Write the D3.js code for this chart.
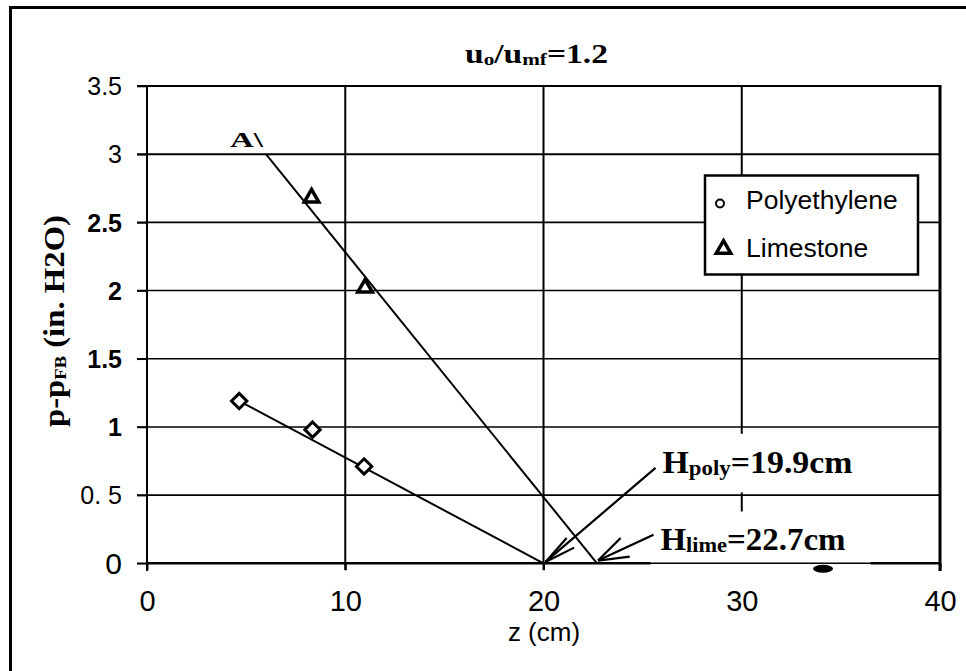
<!DOCTYPE html>
<html><head><meta charset="utf-8">
<script src="https://cdn.jsdelivr.net/npm/d3@7"></script>
<style>body{margin:0;background:#fff}svg{display:block}</style>
</head><body>
<svg id="c" width="966" height="671"></svg>
<script>
// ---- data ----
const xTicks = [0, 10, 20, 30, 40];
const xTickLabels = ["0", "10", "20", "30", "40"];
const yTicks = [0, 0.5, 1, 1.5, 2, 2.5, 3, 3.5];
const yTickLabels = ["0", "0. 5", "1", "1.5", "2", "2.5", "3", "3.5"];
const seriesNames = ["Polyethylene", "Limestone"];
const polyZ = [4.65, 8.35, 10.95];
const polyP = [1.19, 0.98, 0.71];
const limeZ = [8.3, 11.0];
const limeP = [2.68, 2.02];
const polyFitZ = [4.65, 20.0];
const polyFitP = [1.19, 0];
const limeFitZ = [6.0, 22.7];
const limeFitP = [3.0, 0];
const strayZ = [34.1];
const strayP = [-0.04];

// ---- layout ----
const svg = d3.select("#c");
const x = d3.scaleLinear().domain([0, 40]).range([147, 940]);
const y = d3.scaleLinear().domain([0, 3.5]).range([563.3, 86]);
const SANS = "'Liberation Sans', Arial, sans-serif";
const NARROW = "'Liberation Sans Narrow', 'Liberation Sans', Arial, sans-serif";
const SERIF = "'Liberation Serif', 'Times New Roman', serif";

// outer frame
svg.append("path").attr("d", "M10.5,671 V7.5 H966").attr("fill", "none")
  .attr("stroke", "#000").attr("stroke-width", 3);

// horizontal gridlines
svg.append("g").selectAll("line").data(yTicks).join("line")
  .attr("x1", 137).attr("x2", 940)
  .attr("y1", d => y(d)).attr("y2", d => y(d))
  .attr("stroke", "#000").attr("stroke-width", d => d >= 3 ? 2 : 1.6);

// vertical gridlines
const vSegs = [[10, 3.5, -0.05], [20, 3.5, -0.05], [30, 3.5, 0.95], [30, 0.52, 0.38]];
svg.append("g").selectAll("line").data(vSegs).join("line")
  .attr("x1", d => x(d[0])).attr("x2", d => x(d[0]))
  .attr("y1", d => y(d[1])).attr("y2", d => y(d[2]))
  .attr("stroke", "#000").attr("stroke-width", 2);

// y axis (labels + stubs)
const yAxis = svg.append("g").attr("transform", "translate(147,0)")
  .call(d3.axisLeft(y).tickValues(yTicks).tickSize(10).tickSizeOuter(0)
    .tickFormat((d, i) => yTickLabels[i]));
yAxis.select(".domain").remove();
yAxis.selectAll("line").attr("stroke", "#000").attr("stroke-width", 1.6);
yAxis.selectAll("text")
  .attr("x", -25).attr("dy", "0.35em")
  .attr("fill", "#000")
  .style("font-family", d => d === 0 ? NARROW : SANS)
  .style("font-size", d => d === 0 ? "30px" : "25px")
  .style("font-weight", d => (d >= 1 && d <= 2.5) ? "bold" : "normal");

// x axis (labels + stubs)
const xAxis = svg.append("g").attr("transform", "translate(0,563.3)")
  .call(d3.axisBottom(x).tickValues(xTicks).tickSize(7).tickSizeOuter(0)
    .tickFormat((d, i) => xTickLabels[i]));
xAxis.select(".domain").remove();
xAxis.selectAll("line").attr("stroke", "#000").attr("stroke-width", 2)
  .attr("opacity", d => d === 30 ? 0 : 1);
xAxis.selectAll("text").attr("y", 48).attr("dy", 0).attr("fill", "#000")
  .style("font-family", NARROW).style("font-size", "29px");

// bottom axis line (broken as in scan)
const axisSegs = [[0, 25.4], [36.5, 40]];
svg.append("g").selectAll("line").data(axisSegs).join("line")
  .attr("x1", d => x(d[0])).attr("x2", d => x(d[1]))
  .attr("y1", y(0)).attr("y2", y(0))
  .attr("stroke", "#000").attr("stroke-width", 2.5);

// plot borders
svg.append("line").attr("x1", x(0)).attr("x2", x(0)).attr("y1", y(3.5)).attr("y2", 571)
  .attr("stroke", "#000").attr("stroke-width", 2);
svg.append("line").attr("x1", 137).attr("x2", x(40) + 1.5).attr("y1", y(3.5)).attr("y2", y(3.5))
  .attr("stroke", "#000").attr("stroke-width", 2.2);
svg.append("line").attr("x1", x(40)).attr("x2", x(40)).attr("y1", y(3.5)).attr("y2", 571)
  .attr("stroke", "#000").attr("stroke-width", 3);

// fit lines
const line = d3.line();
svg.append("path").attr("d", line(polyFitZ.map((z, i) => [x(z), y(polyFitP[i])])))
  .attr("fill", "none").attr("stroke", "#000").attr("stroke-width", 2);
svg.append("path").attr("d", line(limeFitZ.map((z, i) => [x(z), y(limeFitP[i])])))
  .attr("fill", "none").attr("stroke", "#000").attr("stroke-width", 2);

// polyethylene markers (diamonds)
const diamond = d3.symbol().type(d3.symbolDiamond2).size(150);
svg.append("g").selectAll("path").data(polyZ).join("path")
  .attr("transform", (d, i) => `translate(${x(d)},${y(polyP[i])})`)
  .attr("d", diamond).attr("fill", "#fff").attr("stroke", "#000").attr("stroke-width", 3);

// limestone markers (triangles)
const tri = d3.symbol().type(d3.symbolTriangle2).size(150);
svg.append("g").selectAll("path").data(limeZ).join("path")
  .attr("transform", (d, i) => `translate(${x(d)},${y(limeP[i])})`)
  .attr("d", tri).attr("fill", "#fff").attr("stroke", "#000").attr("stroke-width", 3.5);

// stray scan mark
svg.append("g").selectAll("ellipse").data(strayZ).join("ellipse")
  .attr("cx", d => x(d)).attr("cy", (d, i) => y(strayP[i]))
  .attr("rx", 10).attr("ry", 4).attr("fill", "#000");

// "A\" label
svg.append("text").attr("x", 230).attr("y", 147)
  .attr("textLength", 33).attr("lengthAdjust", "spacingAndGlyphs")
  .style("font-family", SERIF).style("font-weight", "bold").style("font-size", "22px")
  .text("A\\");

// title
const title = svg.append("text").attr("x", 465).attr("y", 63)
  .attr("textLength", 143).attr("lengthAdjust", "spacingAndGlyphs")
  .style("font-family", SERIF).style("font-weight", "bold").style("font-size", "27px");
title.append("tspan").text("u");
title.append("tspan").attr("font-size", "17px").attr("dy", 2).text("o");
title.append("tspan").attr("dy", -2).text("/u");
title.append("tspan").attr("font-size", "17px").attr("dy", 2).text("mf");
title.append("tspan").attr("dy", -2).text("=1.2");

// y-axis title
const yt = svg.append("text")
  .attr("transform", "translate(64,427) rotate(-90)")
  .attr("textLength", 212).attr("lengthAdjust", "spacingAndGlyphs")
  .style("font-family", SERIF).style("font-weight", "bold").style("font-size", "30px");
yt.append("tspan").text("p-p");
yt.append("tspan").attr("font-size", "17px").attr("dy", 2).text("FB");
yt.append("tspan").attr("dy", -2).text(" (in. H2O)");

// x-axis title
svg.append("text").attr("x", 544).attr("y", 641).attr("text-anchor", "middle")
  .style("font-family", SANS).style("font-size", "26px").text("z (cm)");

// legend
const lg = svg.append("g");
lg.append("rect").attr("x", 705).attr("y", 175.5).attr("width", 213).attr("height", 99)
  .attr("fill", "#fff").attr("stroke", "#000").attr("stroke-width", 2.5);
lg.append("circle").attr("cx", 720).attr("cy", 203.5).attr("r", 4)
  .attr("fill", "none").attr("stroke", "#000").attr("stroke-width", 2);
lg.append("path").attr("transform", "translate(723.5,249)").attr("d", d3.symbol().type(d3.symbolTriangle2).size(150))
  .attr("fill", "#fff").attr("stroke", "#000").attr("stroke-width", 3.5);
lg.selectAll("text").data(seriesNames).join("text")
  .attr("x", 746).attr("y", (d, i) => 208.5 + i * 48.5)
  .style("font-family", SANS).style("font-size", "26.5px").text(d => d);

// annotations
const annots = [
  {tipZ: 20.1, tipP: 0.01, tailZ: 25.65, tailP: 0.70, textZ: 26.0, textP: 0.665, main: "H", sub: "poly", rest: "=19.9cm", len: 190, barbs: [-8, 14]},
  {tipZ: 22.75, tipP: 0.02, tailZ: 25.55, tailP: 0.21, textZ: 25.9, textP: 0.10, main: "H", sub: "lime", rest: "=22.7cm", len: 185, barbs: [-20, 18]}
];
annots.forEach(a => {
  const tx = x(a.tipZ), ty = y(a.tipP), sx = x(a.tailZ), sy = y(a.tailP);
  svg.append("line").attr("x1", sx).attr("y1", sy).attr("x2", tx).attr("y2", ty)
    .attr("stroke", "#000").attr("stroke-width", 2.2);
  const ang = Math.atan2(sy - ty, sx - tx);
  a.barbs.forEach(b => {
    const t = ang + b * Math.PI / 180, L = 32;
    svg.append("line").attr("x1", tx).attr("y1", ty)
      .attr("x2", tx + L * Math.cos(t)).attr("y2", ty + L * Math.sin(t))
      .attr("stroke", "#000").attr("stroke-width", 2.2);
  });
  const t = svg.append("text").attr("x", x(a.textZ)).attr("y", y(a.textP))
    .attr("textLength", a.len).attr("lengthAdjust", "spacingAndGlyphs")
    .style("font-family", SERIF).style("font-weight", "bold").style("font-size", "31px");
  t.append("tspan").text(a.main);
  t.append("tspan").attr("font-size", "21px").attr("dy", 2).text(a.sub);
  t.append("tspan").attr("dy", -2).text(a.rest);
});
</script>
</body></html>
